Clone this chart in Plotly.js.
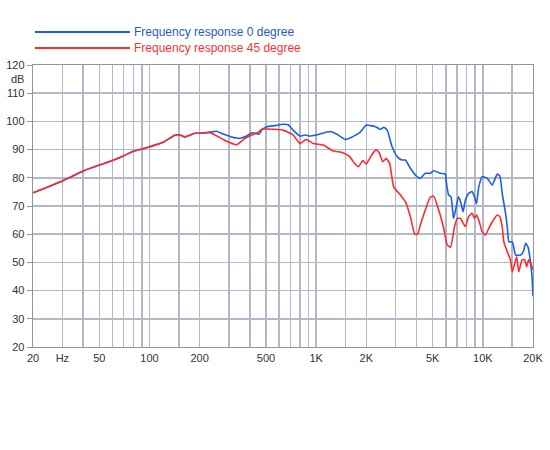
<!DOCTYPE html>
<html>
<head>
<meta charset="utf-8">
<script src="https://cdn.plot.ly/plotly-3.0.1.min.js"></script>
<style>html,body{margin:0;padding:0;background:#fff;}#chart{width:550px;height:450px;}</style>
</head>
<body>
<div id="chart"></div>
<script>
// Frequency (Hz) and level (dB)
var freq0 = [20, 23.1, 25.3, 30, 34.9, 40, 50, 60, 70, 80, 90, 100, 121, 142, 152, 163, 187, 200,
  231, 253, 277, 311, 349, 383, 413, 455, 471, 505, 567, 634, 679, 727, 800, 857, 917, 1000,
  1218, 1326, 1500, 1659, 1824, 2000, 2118, 2270, 2430, 2546, 2667, 2855, 3060, 3276, 3430,
  3676, 4029, 4219, 4518, 4838, 5067, 5555, 5950, 6035, 6232, 6440, 6676, 6930, 7160, 7400,
  7612, 7860, 8230, 8625, 8910, 9160, 9460, 9910, 10630, 11390, 11760, 12200, 12650, 13070,
  13690, 14020, 14340, 15020, 15730, 16860, 17500, 18080, 18690, 19250, 19730, 20000];
var level0 = [74.7, 76.1, 77.1, 78.9, 80.7, 82.4, 84.5, 86.1, 87.8, 89.4, 90.2, 91.0, 92.6, 95.1, 95.2, 94.5, 95.8, 95.8,
  96.2, 96.5, 95.5, 94.5, 94.0, 94.8, 96.0, 95.5, 96.9, 98.1, 98.5, 99.0, 98.8, 96.9, 94.8, 95.2, 94.8, 95.2,
  96.4, 95.5, 93.6, 94.6, 96.0, 98.7, 98.5, 98.1, 97.2, 97.9, 96.9, 91.0, 87.5, 86.3, 86.3,
  83.4, 80.4, 79.8, 81.6, 81.6, 82.5, 81.6, 81.4, 78.6, 73.9, 73.3, 65.6, 69.8, 73.3, 70.9,
  68.0, 72.1, 74.5, 75.1, 73.3, 70.9, 76.8, 80.4, 79.8, 77.4, 79.2, 81.3, 80.6, 74.5,
  67.4, 62.6, 57.3, 57.3, 52.6, 52.6, 53.8, 56.8, 55.4, 50.9, 45.0, 38.0];

var freq45 = [20, 23.1, 25.3, 30, 34.9, 40, 50, 60, 70, 80, 90, 100, 121, 142, 152, 163, 187, 200,
  231, 277, 303, 333, 375, 455, 471, 555, 634, 727, 800, 870, 958, 1102, 1259, 1446, 1590,
  1670, 1790, 1905, 1995, 2152, 2287, 2386, 2513, 2633, 2760, 2920, 3204, 3440, 3676, 3908,
  4060, 4219, 4518, 4838, 5067, 5435, 5830, 6115, 6400, 6767, 7020, 7360, 7612, 7860, 8230,
  8625, 8910, 9160, 9460, 9910, 10370, 10850, 11390, 12200, 12650, 13070, 13370, 14020,
  14640, 15020, 15360, 15950, 16420, 17190, 17830, 18300, 18850, 19730, 20000];
var level45 = [74.7, 76.1, 77.1, 78.9, 80.7, 82.4, 84.5, 86.1, 87.8, 89.4, 90.2, 91.0, 92.6, 95.1, 95.2, 94.5, 95.8, 95.8,
  96.0, 93.6, 92.5, 91.7, 94.0, 96.4, 97.2, 97.2, 96.9, 95.2, 92.2, 93.6, 92.2, 91.6, 89.6, 88.9, 87.5,
  85.7, 83.9, 86.1, 84.9, 88.1, 89.9, 89.0, 85.7, 86.9, 85.1, 76.8, 73.9, 71.5, 66.2, 60.0,
  60.0, 63.3, 68.6, 73.1, 73.5, 68.6, 62.0, 56.2, 55.4, 62.7, 65.6, 65.6, 63.9, 62.7, 66.3,
  67.4, 65.6, 66.8, 65.0, 60.9, 59.7, 62.1, 64.4, 66.8, 66.2, 62.6, 57.3, 53.8,
  50.9, 46.7, 48.5, 52.0, 46.7, 50.9, 50.9, 48.5, 50.9, 48.5, 47.5];

var gridFreqs = [20, 30, 40, 50, 60, 70, 80, 90, 100, 150, 200, 300, 400, 500, 600, 700, 800, 900,
  1000, 1500, 2000, 3000, 4000, 5000, 6000, 7000, 8000, 9000, 10000, 15000, 20000];
var gridLabels = ["20", "Hz", "", "50", "", "", "", "", "100", "", "200", "", "", "500", "", "", "", "",
  "1K", "", "2K", "", "", "5K", "", "", "", "", "10K", "", "20K"];
var levelTicks = [20, 30, 40, 50, 60, 70, 80, 90, 100, 110, 120];
var seriesNames = ["Frequency response 0 degree", "Frequency response 45 degree"];
var seriesColors = ["#1e5ee6", "#ff2b2b"];

var traces = [
  {x: freq0, y: level0, name: seriesNames[0], type: "scatter", mode: "lines",
   line: {color: seriesColors[0], width: 1.6, shape: "spline", smoothing: 0.5}, hoverinfo: "x+y"},
  {x: freq45, y: level45, name: seriesNames[1], type: "scatter", mode: "lines",
   line: {color: seriesColors[1], width: 1.6, shape: "spline", smoothing: 0.5}, hoverinfo: "x+y"}
];

var gridColor = "#b2b8c7";
var layout = {
  width: 550, height: 450,
  margin: {l: 33, r: 17, t: 65, b: 103},
  paper_bgcolor: "#ffffff", plot_bgcolor: "#ffffff",
  showlegend: false,
  font: {family: "Liberation Sans, Arial, sans-serif", size: 11, color: "#333333"},
  xaxis: {
    type: "log", range: [Math.log10(20), Math.log10(20000)],
    tickmode: "array", tickvals: gridFreqs, ticktext: gridLabels,
    showgrid: true, gridcolor: gridColor, gridwidth: 1.6,
    showline: true, linecolor: "#8d97a8", linewidth: 1.3, mirror: true,
    ticks: "", zeroline: false, tickangle: 0,
    tickfont: {size: 11, color: "#333333"}
  },
  yaxis: {
    range: [20, 120], tickmode: "array", tickvals: levelTicks,
    showgrid: true, gridcolor: gridColor, gridwidth: 1.6,
    showline: true, linecolor: "#8d97a8", linewidth: 1.3, mirror: true,
    ticks: "outside", ticklen: 5, tickcolor: "#8d97a8", tickwidth: 1,
    zeroline: false, tickfont: {size: 11, color: "#333333"}
  },
  shapes: [
    {type: "line", xref: "paper", yref: "paper", x0: 0.004, x1: 0.194, y0: 1.117, y1: 1.117,
     line: {color: seriesColors[0], width: 2}},
    {type: "line", xref: "paper", yref: "paper", x0: 0.004, x1: 0.194, y0: 1.060, y1: 1.060,
     line: {color: seriesColors[1], width: 2}}
  ],
  annotations: [
    {text: seriesNames[0], xref: "paper", yref: "paper", x: 0.197, y: 1.117, xanchor: "left", yanchor: "middle",
     showarrow: false, font: {size: 12, color: "#2a5cc4"}},
    {text: seriesNames[1], xref: "paper", yref: "paper", x: 0.197, y: 1.060, xanchor: "left", yanchor: "middle",
     showarrow: false, font: {size: 12, color: "#ff3030"}},
    {text: "dB", xref: "paper", yref: "y", x: 0, y: 115, xanchor: "right", yanchor: "middle",
     xshift: -7, showarrow: false, font: {size: 11, color: "#333333"}}
  ]
};

Plotly.newPlot("chart", traces, layout, {displayModeBar: false, staticPlot: true});
</script>
</body>
</html>
